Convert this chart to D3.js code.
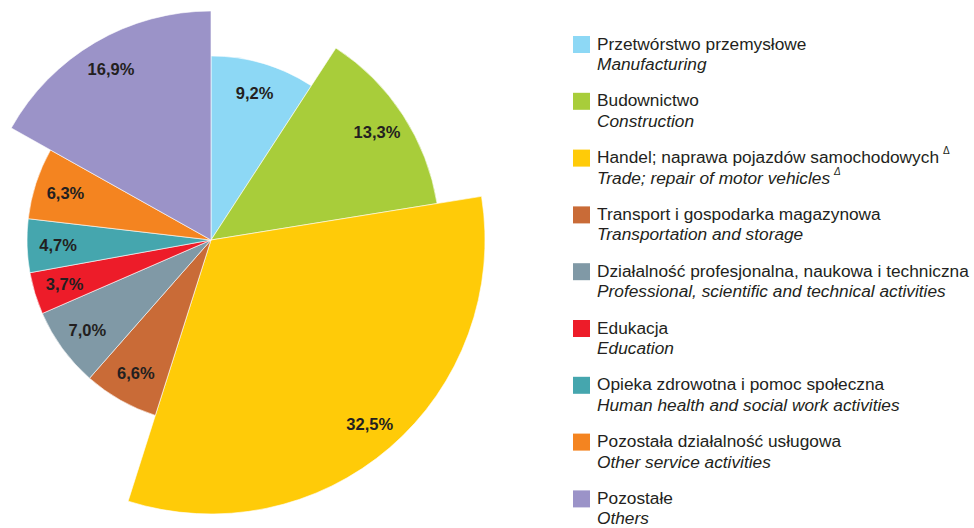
<!DOCTYPE html>
<html>
<head>
<meta charset="utf-8">
<script src="https://cdn.jsdelivr.net/npm/d3@7/dist/d3.min.js"></script>
<style>
html,body{margin:0;padding:0;background:#fff;}
svg{display:block;font-family:"Liberation Sans",Arial,sans-serif;}
</style>
</head>
<body>
<svg id="chart" width="974" height="528"></svg>
<script>
const namesPL = [
  "Przetwórstwo przemysłowe",
  "Budownictwo",
  "Handel; naprawa pojazdów samochodowych",
  "Transport i gospodarka magazynowa",
  "Działalność profesjonalna, naukowa i techniczna",
  "Edukacja",
  "Opieka zdrowotna i pomoc społeczna",
  "Pozostała działalność usługowa",
  "Pozostałe"
];
const namesEN = [
  "Manufacturing",
  "Construction",
  "Trade; repair of motor vehicles",
  "Transportation and storage",
  "Professional, scientific and technical activities",
  "Education",
  "Human health and social work activities",
  "Other service activities",
  "Others"
];
const footnote = [false, false, true, false, false, false, false, false, false];
const values = [9.2, 13.3, 32.5, 6.6, 7.0, 3.7, 4.7, 6.3, 16.9];
const tiers  = [1, 2, 3, 1, 1, 1, 1, 1, 2];
const colors = ["#8dd8f5", "#a8cd3a", "#ffcb08", "#c96b37", "#8099a6", "#ed1c29", "#45a6ae", "#f48420", "#9b93c8"];

const data = values.map((v, i) => ({v, tier: tiers[i], color: colors[i], pl: namesPL[i], en: namesEN[i], fn: footnote[i]}));

const svg = d3.select("#chart");
const cx = 211, cy = 240;
const rScale = d3.scaleLinear().domain([1, 3]).range([184, 274]);
const fmt = v => d3.format(".1f")(v).replace(".", ",") + "%";

const pie = d3.pie().sort(null).value(d => d.v);
const arcs = pie(data);

const g = svg.append("g").attr("transform", `translate(${cx},${cy})`);

g.selectAll("path").data(arcs).enter().append("path")
  .attr("d", d => d3.arc().innerRadius(0).outerRadius(rScale(d.data.tier))(d))
  .attr("fill", d => d.data.color)
  .attr("stroke", "#ffffff")
  .attr("stroke-width", 0.6);

g.selectAll("text.lbl").data(arcs).enter().append("text")
  .attr("class", "lbl")
  .attr("transform", d => {
    const r = rScale(d.data.tier) - 31;
    const c = d3.arc().innerRadius(r).outerRadius(r).centroid(d);
    return `translate(${c[0]},${c[1]})`;
  })
  .attr("text-anchor", "middle")
  .attr("dominant-baseline", "central")
  .attr("font-size", 16.5)
  .attr("font-weight", "bold")
  .attr("fill", "#231f20")
  .text(d => fmt(d.data.v));

// Legend
const lg = svg.append("g").attr("transform", "translate(573,36)");
const step = 56.8;
const items = lg.selectAll("g").data(data).enter().append("g")
  .attr("transform", (d, i) => `translate(0,${i * step})`);
items.append("rect").attr("width", 17).attr("height", 17).attr("fill", d => d.color);
const pl = items.append("text").attr("x", 24).attr("y", 13.5)
  .attr("font-size", 17.3).attr("fill", "#231f20");
pl.append("tspan").text(d => d.pl);
pl.filter(d => d.fn).append("tspan").attr("dx", 4).attr("dy", -9).attr("font-size", 10).text("Δ");
const en = items.append("text").attr("x", 24).attr("y", 34)
  .attr("font-size", 17.3).attr("font-style", "italic").attr("fill", "#231f20");
en.append("tspan").text(d => d.en);
en.filter(d => d.fn).append("tspan").attr("dx", 4).attr("dy", -9).attr("font-size", 10).text("Δ");
</script>
</body>
</html>
